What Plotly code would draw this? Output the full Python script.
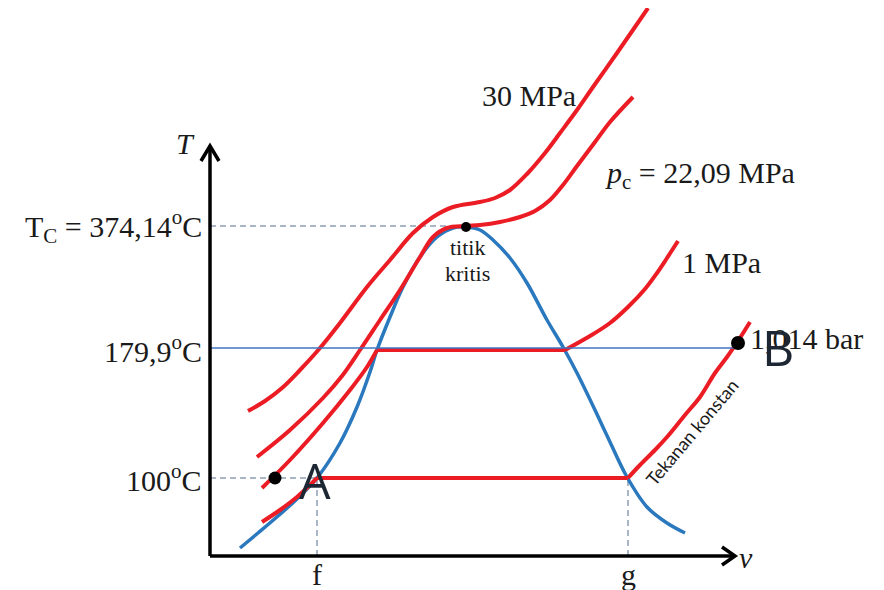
import plotly.graph_objects as go

# ---------------- data (schematic units: v along x, T-height along y) ----------------
dome_v = [30, 48, 68, 88, 107, 130, 147, 160, 167, 180, 193, 210, 227, 243, 256, 270, 283, 300, 317, 337, 353, 367, 385, 400, 417, 437, 457, 475]
dome_T = [8, 23, 40, 58, 78, 113, 149, 184, 206, 239, 269, 299, 319, 328, 329, 326, 316, 298, 273, 236, 209, 183, 146, 114, 79, 49, 33, 23]

p30_v = [38, 55, 72, 90, 110, 130, 157, 180, 203, 223, 243, 270, 285, 300, 317, 335, 350, 367, 383, 407, 425, 438]
p30_T = [145, 155, 168, 186, 208, 233, 269, 296, 323, 339, 349, 354, 358, 366, 382, 403, 423, 446, 469, 503, 529, 548]

pc_v = [47, 80, 113, 132, 150, 170, 190, 210, 223, 237, 256, 270, 290, 310, 325, 340, 353, 367, 385, 400, 423]
pc_T = [99, 126, 158, 180, 206, 236, 266, 299, 319, 328, 330, 331, 334, 339, 345, 356, 371, 390, 414, 434, 459]

p1_left_v = [52, 80, 113, 140, 157, 167]
p1_left_T = [68, 96, 133, 166, 189, 206]
p1_right_v = [355, 380, 400, 418, 435, 447, 457, 468]
p1_right_T = [206, 220, 233, 249, 267, 283, 298, 315]

patm_left_v = [52, 70, 87, 100, 107]
patm_left_T = [34, 46, 59, 71, 78]
patm_right_v = [418, 430, 445, 457, 475, 490, 505, 517, 528, 540]
patm_right_T = [78, 91, 106, 119, 141, 159, 183, 199, 215, 234]

# characteristic levels / positions
T_crit, T_sat1, T_sat0 = 330, 207, 78
v_crit, v_f, v_g, v_B, v_A = 256, 107, 418, 528, 65
T_B = 213

y_tick_vals = [T_crit, T_sat1, T_sat0]
y_tick_text = ["T<sub>C</sub> = 374,14<sup>o</sup>C", "179,9<sup>o</sup>C", "100<sup>o</sup>C"]
x_tick_vals = [v_f, v_g]
x_tick_text = ["f", "g"]

RED = "#ec1c24"
BLUE = "#2a78bd"
DASH = "#8d9fb3"
SERIF = "Liberation Serif"

fig = go.Figure()

def line(x, y, color, width, dash=None, shape="linear"):
    fig.add_trace(go.Scatter(x=x, y=y, mode="lines",
                             line=dict(color=color, width=width, dash=dash, shape=shape, smoothing=1.0),
                             hoverinfo="skip", showlegend=False))

# dashed guide lines
line([0, v_crit], [T_crit, T_crit], DASH, 1.5, dash="6px,4px")
line([0, v_f], [T_sat0, T_sat0], DASH, 1.5, dash="6px,4px")
line([v_f, v_f], [0, T_sat0], DASH, 1.5, dash="6px,4px")
line([v_g, v_g], [0, T_sat0], DASH, 1.5, dash="6px,4px")

# saturation dome
line(dome_v, dome_T, BLUE, 3.5, shape="spline")

# isobars
line(p30_v, p30_T, RED, 4, shape="spline")
line(pc_v, pc_T, RED, 4, shape="spline")
line(p1_left_v, p1_left_T, RED, 4, shape="spline")
line([p1_left_v[-1], p1_right_v[0]], [T_sat1 - 1, T_sat1 - 1], RED, 4)
line(p1_right_v, p1_right_T, RED, 4, shape="spline")
line(patm_left_v, patm_left_T, RED, 4, shape="spline")
line([patm_left_v[-1], patm_right_v[0]], [T_sat0, T_sat0], RED, 4)
line(patm_right_v, patm_right_T, RED, 4, shape="spline")

# 179.9 C thin blue line
line([0, v_B], [T_sat1 + 1, T_sat1 + 1], "#3f74c2", 1.5)

# axes (with open arrow heads)
line([0, 0], [0, 410], "black", 3.5)
line([-9, 0, 9], [395, 410, 395], "black", 3.5)
line([0, 525], [0, 0], "black", 3.5)
line([512, 525, 512], [9, 0, -9], "black", 3.5)

# points
fig.add_trace(go.Scatter(x=[v_crit, v_A, v_B], y=[T_crit - 1, T_sat0, T_B], mode="markers",
                         marker=dict(color="#000000", opacity=1, size=[10, 13, 14], line=dict(width=0)),
                         hoverinfo="skip", showlegend=False, cliponaxis=False))

ann = []
def text(x, y, s, size=30, family=SERIF, xanchor="center", yanchor="middle", angle=0, color="#1a1a1a"):
    ann.append(dict(x=x, y=y, text=s, showarrow=False, xanchor=xanchor, yanchor=yanchor,
                    textangle=angle, font=dict(family=family, size=size, color=color)))

for val, t in zip(y_tick_vals, y_tick_text):
    text(-6, val, t, xanchor="right")
for val, t in zip(x_tick_vals, x_tick_text):
    text(val, -18, t)

text(-25, 413, "<i>T</i>", size=30)
text(536, -1, "<i>v</i>", size=30)
text(319, 461, "30 MPa")
text(393, 381, "<i>p</i><sub>c</sub> = 22,09 MPa", xanchor="left")
text(470, 294, "1 MPa", xanchor="left")
text(538, 218, "1,014 bar", xanchor="left")
text(257, 309, "titik", size=22, family="Liberation Serif")
text(257, 283, "kritis", size=22, family="Liberation Serif")
text(105, 76, "A", size=50, family="Open Sans", color="#1d2733")
text(568, 209, "B", size=50, family="Open Sans", color="#1d2733")
text(482, 124, "Tekanan konstan", size=18, family="Lato", angle=-50)

# the page body has an 8px margin: figure is 876x582 and axes are offset accordingly
fig.update_layout(
    width=876, height=582,
    margin=dict(l=0, r=0, t=0, b=0),
    paper_bgcolor="white", plot_bgcolor="white",
    xaxis=dict(range=[-202, 674], visible=False, fixedrange=True),
    yaxis=dict(range=[-34, 548], visible=False, fixedrange=True),
    annotations=ann,
    showlegend=False,
)

fig.write_html("out.html")
